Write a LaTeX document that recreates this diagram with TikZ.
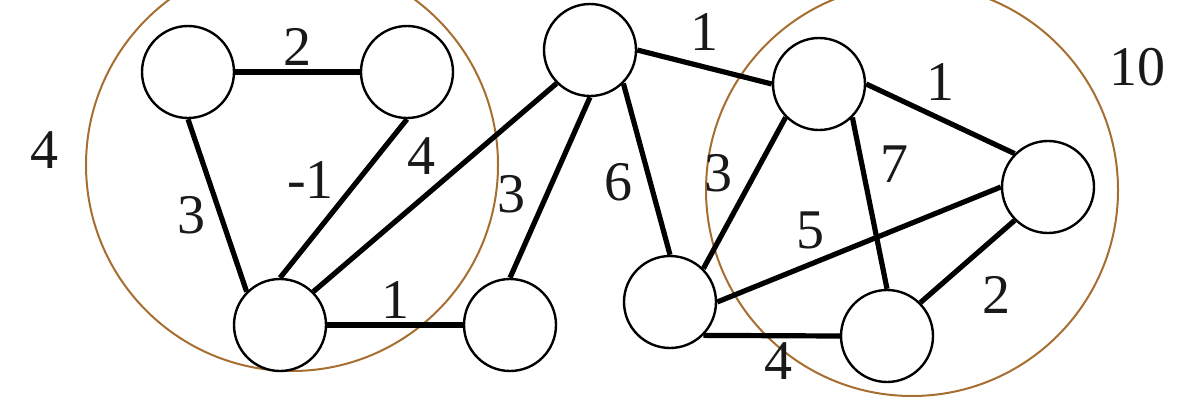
\documentclass[tikz,border=0pt]{standalone}
\usepackage{fontspec}
\setmainfont{Liberation Serif}
\newfontfamily\weightfont{Liberation Serif}
\usepackage{tikz}
\usetikzlibrary{arrows}
\definecolor{clusterbrown}{RGB}{166,110,48}
\tikzset{vertex/.style={circle, draw, line width=1.2pt, fill=white, minimum size=46pt, inner sep=0pt},
	edge/.style={line width=2.6pt},
	cluster/.style={circle, draw=clusterbrown, line width=1pt, minimum size=206pt, inner sep=0pt},
	weight/.style={inner sep=2pt, text=black!90, font=\weightfont\fontsize{28}{30}\selectfont}}

\begin{document}
\begin{tikzpicture}[x=0.5pt, y=-0.5pt, auto]
		\useasboundingbox (0,0) rectangle (1204,418);
		\node[cluster](L) at (292,165){};
		\node[cluster](R) at (912,190){};
		\node[weight](wL) at (45,150){4};
		\node[weight](wR) at (1137,67){10};
		\node[vertex](A) at (188,72){};
		\node[vertex](B) at (407,72){};
		\node[vertex](C) at (280,325){};
		\node[vertex](D) at (510,325){};
		\node[vertex](E) at (590,50){};
		\node[vertex](F) at (670,302){};
		\node[vertex](G) at (819,84){};
		\node[vertex](H) at (1048,187){};
		\node[vertex](I) at (887,336){};
		\draw[edge](A.east) to node[weight]{2}(B.west);
		\draw[edge](A.south) to node[weight,swap,pos=0.41]{3}(C.135);
		\draw[edge](B.south) to node[weight,swap,pos=0.54,xshift=1pt]{-1}(C.north);
		\draw[edge](C.45) to node[weight,pos=0.53]{4}(E.225);
		\draw[edge](C.east) to node[weight]{1}(D.west);
		\draw[edge](D.north) to node[weight,pos=0.32,xshift=-2pt]{3}(E.south);
		\draw[edge](E.east) to node[weight,above=5pt]{1}(G.west);
		\draw[edge](E.-45) to node[weight,swap,pos=0.43,xshift=-2pt]{6}(F.north);
		\draw[edge](G.east) to node[weight,above=6pt]{1}(H.135);
		\draw[edge](G.225) to node[weight,swap,pos=0.54,xshift=-1pt]{3}(F.45);
		\draw[edge](G.-45) to node[weight,pos=0.27,right=6pt]{7}(I.north);
		\draw[edge](F.east) to node[weight,pos=0.4]{5}(H.west);
		\draw[edge](H.225) to node[weight,shift={(8,8)}]{2}(I.45);
		\draw[edge](F.-45) to node[weight,swap,pos=0.55]{4}(I.west);
	\end{tikzpicture}
\end{document}
